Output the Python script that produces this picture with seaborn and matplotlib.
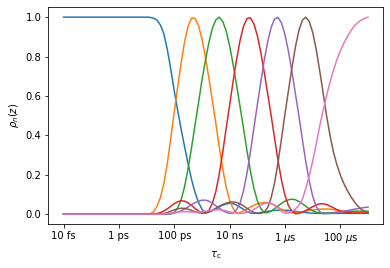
import matplotlib
matplotlib.use("Agg")
import matplotlib.pyplot as plt
import seaborn as sns
import pandas as pd

# sampling grid of log10(tau_c / s), 1/8 decade spacing from 10 fs to 1 ms
z = [-14 + 0.125 * k for k in range(89)]

rho0 = [1.0]*24 + [
    1.0, 0.999, 0.995, 0.985, 0.96, 0.915, 0.835, 0.735, 0.625, 0.525,
    0.43, 0.34, 0.255, 0.175, 0.11, 0.06, 0.025, 0.005, 0.01, 0.018,
    0.027, 0.037, 0.046, 0.052, 0.055, 0.053, 0.046, 0.036, 0.024, 0.013,
    0.006, 0.004, 0.005, 0.008, 0.011, 0.014, 0.017, 0.019, 0.02, 0.02,
    0.02, 0.019, 0.017, 0.014, 0.012, 0.01, 0.008, 0.006, 0.005] + [0.004]*16
rho1 = [0.0]*24 + [
    0.0, 0.002, 0.012, 0.04, 0.085, 0.155, 0.259, 0.388, 0.52, 0.647,
    0.77, 0.877, 0.954, 0.995, 0.994, 0.957, 0.89, 0.797, 0.69, 0.577,
    0.462, 0.341, 0.23, 0.137, 0.069, 0.028, 0.006, 0.008, 0.016, 0.026,
    0.036, 0.045, 0.052, 0.057, 0.059, 0.058, 0.053, 0.045, 0.035, 0.024,
    0.015, 0.009, 0.007, 0.008, 0.01, 0.012, 0.015, 0.018, 0.021, 0.023,
    0.025, 0.026, 0.026, 0.025, 0.023, 0.02, 0.018, 0.015, 0.013, 0.011,
    0.01, 0.009, 0.008, 0.008, 0.008]
rho2 = [0.0]*24 + [
    0.0, 0.0, 0.0, 0.0, 0.0, 0.0, 0.0, 0.001, 0.008, 0.032,
    0.074, 0.141, 0.232, 0.338, 0.454, 0.565, 0.68, 0.78, 0.871, 0.943,
    0.986, 1.0, 0.979, 0.93, 0.854, 0.76, 0.656, 0.547, 0.436, 0.323,
    0.219, 0.132, 0.068, 0.029, 0.007, 0.008, 0.016, 0.028, 0.042, 0.055,
    0.066, 0.073, 0.076, 0.073, 0.065, 0.053, 0.04, 0.027, 0.017, 0.01,
    0.007, 0.006, 0.006, 0.007, 0.008, 0.01, 0.011, 0.012, 0.013, 0.014,
    0.015, 0.015, 0.015, 0.015, 0.015]
rho3 = [0.0]*24 + [
    0.0, 0.0, 0.0, 0.003, 0.008, 0.016, 0.027, 0.04, 0.053, 0.063,
    0.068, 0.066, 0.057, 0.044, 0.029, 0.016, 0.007, 0.006, 0.02, 0.054,
    0.114, 0.204, 0.314, 0.436, 0.555, 0.674, 0.784, 0.881, 0.953, 0.993,
    0.997, 0.967, 0.906, 0.822, 0.72, 0.61, 0.50, 0.383, 0.27, 0.171,
    0.094, 0.043, 0.015, 0.002, 0.004, 0.01, 0.018, 0.028, 0.038, 0.047,
    0.052, 0.053, 0.049, 0.041, 0.032, 0.023, 0.016, 0.011, 0.008, 0.006,
    0.005, 0.005, 0.005, 0.005, 0.005]
rho4 = [0.0]*24 + [
    0.0, 0.0, 0.0, 0.0, 0.0, 0.0, 0.0, 0.002, 0.005, 0.01,
    0.017, 0.026, 0.037, 0.048, 0.058, 0.066, 0.071, 0.071, 0.066, 0.056,
    0.043, 0.03, 0.018, 0.009, 0.004, 0.006, 0.022, 0.056, 0.118, 0.207,
    0.315, 0.437, 0.555, 0.67, 0.781, 0.876, 0.949, 0.991, 0.998, 0.97,
    0.91, 0.826, 0.723, 0.612, 0.50, 0.381, 0.267, 0.168, 0.091, 0.04,
    0.013, 0.002, 0.003, 0.004, 0.006, 0.009, 0.012, 0.015, 0.018, 0.021,
    0.025, 0.028, 0.031, 0.034, 0.036]
rho5 = [0.0]*24 + [
    0.0, 0.0, 0.0, 0.0, 0.0, 0.003, 0.008, 0.015, 0.022, 0.027,
    0.03, 0.029, 0.025, 0.019, 0.012, 0.007, 0.005, 0.007, 0.012, 0.02,
    0.03, 0.04, 0.049, 0.056, 0.061, 0.062, 0.059, 0.052, 0.042, 0.03,
    0.018, 0.009, 0.004, 0.004, 0.01, 0.034, 0.084, 0.16, 0.265, 0.385,
    0.51, 0.628, 0.743, 0.848, 0.931, 0.984, 1.0, 0.978, 0.923, 0.837,
    0.731, 0.616, 0.50, 0.40, 0.315, 0.25, 0.198, 0.155, 0.12, 0.09,
    0.064, 0.042, 0.025, 0.013, 0.007]
rho6 = [0.0]*24 + [
    0.0, 0.0, 0.0, 0.0, 0.0, 0.001, 0.003, 0.005, 0.008, 0.01,
    0.012, 0.012, 0.012, 0.011, 0.01, 0.011, 0.012, 0.015, 0.018, 0.02,
    0.022, 0.022, 0.02, 0.016, 0.012, 0.008, 0.005, 0.004, 0.005, 0.009,
    0.015, 0.024, 0.035, 0.046, 0.054, 0.058, 0.055, 0.045, 0.03, 0.014,
    0.005, 0.006, 0.014, 0.026, 0.045, 0.075, 0.13, 0.195, 0.27, 0.355,
    0.445, 0.525, 0.60, 0.67, 0.73, 0.785, 0.83, 0.868, 0.90, 0.93,
    0.955, 0.972, 0.985, 0.994, 1.0]

tick_pos = [-14, -12, -10, -8, -6, -4]
tick_labels = ['10 fs', '1 ps', '100 ps', '10 ns', r'1 $\mu$s', r'100 $\mu$s']

series = [rho0, rho1, rho2, rho3, rho4, rho5, rho6]
for s in series:
    assert len(s) == len(z), len(s)
rows = []
for n, s in enumerate(series):
    for zz, r in zip(z, s):
        rows.append({'z': zz, 'rho': r, 'n': n})
df = pd.DataFrame(rows)

fig = plt.figure(figsize=(390/72, 268/72), dpi=72)
ax = fig.add_axes([48.3/390, 1 - 224/268, 335/390, 216.7/268])
sns.lineplot(data=df, x='z', y='rho', hue='n', palette=sns.color_palette('tab10', 7),
             legend=False, errorbar=None, ax=ax, linewidth=1.5)
ax.set_xticks(tick_pos)
ax.set_xticklabels(tick_labels)
ax.set_yticks([0.0, 0.2, 0.4, 0.6, 0.8, 1.0])
ax.set_xlabel(r'$\tau_\mathrm{c}$')
ax.set_ylabel(r'$\rho_n(z)$')
fig.savefig('out.png', dpi=72)
